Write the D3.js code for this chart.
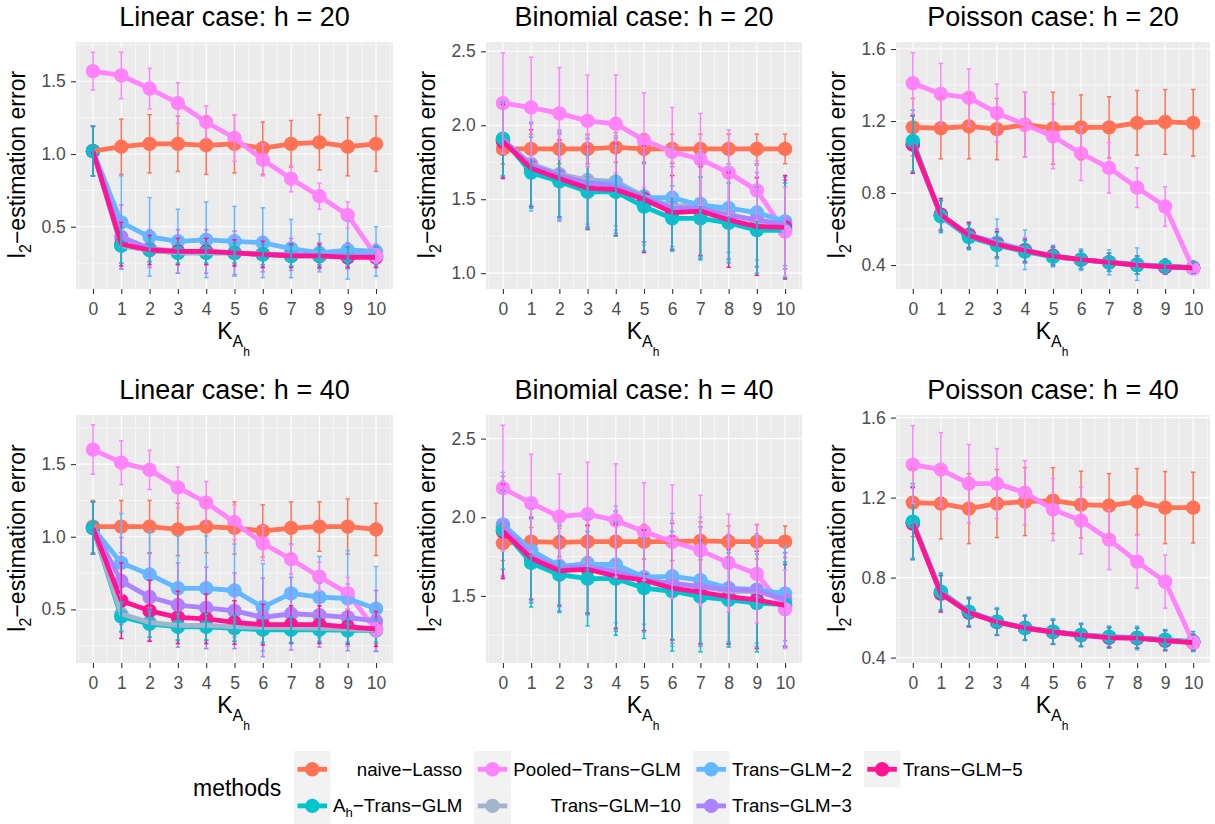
<!DOCTYPE html>
<html>
<head>
<meta charset="utf-8">
<script src="https://cdn.jsdelivr.net/npm/d3@7"></script>
<style>
  body { margin: 0; background: #ffffff; }
  svg { display: block; font-family: "Liberation Sans", Arial, Helvetica, sans-serif; }
</style>
</head>
<body>
<svg id="chart" width="1215" height="824"></svg>
<script>
// ---------------- DATA ----------------
const kValues = [0, 1, 2, 3, 4, 5, 6, 7, 8, 9, 10];
const methodKeys = ["naive", "ah", "pooled", "tg10", "tg2", "tg3", "tg5"];
const methodColors = ["#FF7256", "#00C5CD", "#FF83FA", "#A2B5CD", "#63B8FF", "#AB82FF", "#FF1493"];
const legendTitle = "methods";
const panelTitles = ["Linear case: h = 20", "Binomial case: h = 20", "Poisson case: h = 20",
                     "Linear case: h = 40", "Binomial case: h = 40", "Poisson case: h = 40"];
const yAxisTitleMain = "l";
const yAxisTitleSub = "2";
const yAxisTitleRest = "\u2212estimation error";

const yTicksLinear = [0.5, 1.0, 1.5];
const yTicksBinomial20 = [1.0, 1.5, 2.0, 2.5];
const yTicksBinomial40 = [1.5, 2.0, 2.5];
const yTicksPoisson = [0.4, 0.8, 1.2, 1.6];

const yLimLin20 = [0.072, 1.77];
const yLimBin20 = [0.893, 2.563];
const yLimPoi20 = [0.267, 1.639];
const yLimLin40 = [0.131, 1.838];
const yLimBin40 = [1.074, 2.65];
const yLimPoi40 = [0.373, 1.613];

// Linear h = 20
const lin20_naive  = [1.02,1.05,1.07,1.07,1.06,1.07,1.04,1.07,1.08,1.05,1.07];
const lin20_naive_sd = [0.17,0.19,0.20,0.19,0.20,0.20,0.18,0.16,0.19,0.20,0.19];
const lin20_ah     = [1.02,0.37,0.34,0.32,0.32,0.32,0.31,0.30,0.30,0.30,0.30];
const lin20_ah_sd  = [0.17,0.12,0.08,0.07,0.07,0.07,0.07,0.07,0.06,0.06,0.06];
const lin20_pooled = [1.57,1.54,1.45,1.35,1.22,1.11,0.96,0.83,0.71,0.58,0.30];
const lin20_pooled_sd = [0.13,0.16,0.14,0.14,0.11,0.16,0.11,0.09,0.09,0.09,0.05];
const lin20_tg10   = [1.02,0.37,0.34,0.32,0.32,0.32,0.31,0.30,0.30,0.30,0.29];
const lin20_tg10_sd = [0.17,0.12,0.08,0.08,0.08,0.08,0.08,0.07,0.07,0.07,0.06];
const lin20_tg2    = [1.02,0.53,0.43,0.40,0.41,0.40,0.39,0.35,0.32,0.34,0.33];
const lin20_tg2_sd = [0.17,0.32,0.27,0.22,0.26,0.24,0.24,0.20,0.13,0.20,0.17];
const lin20_tg3    = [1.02,0.43,0.35,0.33,0.33,0.32,0.31,0.31,0.30,0.30,0.30];
const lin20_tg3_sd = [0.17,0.22,0.13,0.15,0.15,0.15,0.12,0.11,0.09,0.09,0.08];
const lin20_tg5    = [1.02,0.38,0.34,0.33,0.33,0.32,0.31,0.30,0.30,0.29,0.29];
const lin20_tg5_sd = [0.17,0.15,0.10,0.09,0.09,0.09,0.09,0.08,0.08,0.07,0.07];

// Binomial h = 20
const bin20_naive  = [1.84,1.84,1.84,1.84,1.85,1.84,1.84,1.84,1.84,1.84,1.84];
const bin20_naive_sd = [0.10,0.10,0.10,0.10,0.10,0.10,0.10,0.10,0.10,0.10,0.10];
const bin20_ah     = [1.91,1.68,1.62,1.55,1.55,1.45,1.37,1.37,1.34,1.29,1.29];
const bin20_ah_sd  = [0.25,0.24,0.24,0.25,0.30,0.30,0.22,0.28,0.27,0.29,0.32];
const bin20_pooled = [2.15,2.12,2.08,2.03,2.01,1.90,1.82,1.77,1.68,1.56,1.28];
const bin20_pooled_sd = [0.34,0.34,0.31,0.31,0.33,0.32,0.30,0.31,0.29,0.20,0.30];
const bin20_tg10   = [1.90,1.74,1.67,1.63,1.62,1.52,1.45,1.47,1.40,1.35,1.33];
const bin20_tg10_sd = [0.25,0.28,0.30,0.30,0.30,0.33,0.30,0.36,0.30,0.30,0.30];
const bin20_tg2    = [1.90,1.72,1.65,1.61,1.61,1.51,1.51,1.46,1.44,1.41,1.35];
const bin20_tg2_sd = [0.25,0.30,0.30,0.30,0.32,0.30,0.33,0.35,0.30,0.32,0.30];
const bin20_tg3    = [1.90,1.73,1.66,1.61,1.59,1.51,1.44,1.44,1.39,1.36,1.33];
const bin20_tg3_sd = [0.25,0.28,0.30,0.30,0.32,0.30,0.28,0.34,0.30,0.32,0.30];
const bin20_tg5    = [1.89,1.71,1.64,1.575,1.565,1.50,1.41,1.42,1.36,1.315,1.31];
const bin20_tg5_sd = [0.25,0.26,0.26,0.28,0.31,0.36,0.25,0.30,0.32,0.33,0.35];

// Poisson h = 20
const poi20_naive  = [1.165,1.16,1.17,1.155,1.18,1.16,1.165,1.165,1.19,1.195,1.19];
const poi20_naive_sd = [0.16,0.17,0.18,0.17,0.18,0.20,0.18,0.17,0.18,0.18,0.185];
const poi20_ah     = [1.09,0.67,0.555,0.51,0.475,0.445,0.43,0.415,0.40,0.395,0.385];
const poi20_ah_sd  = [0.17,0.09,0.07,0.07,0.06,0.05,0.05,0.05,0.05,0.04,0.03];
const poi20_pooled = [1.41,1.35,1.33,1.245,1.18,1.115,1.02,0.94,0.83,0.725,0.38];
const poi20_pooled_sd = [0.17,0.17,0.16,0.16,0.18,0.18,0.15,0.14,0.11,0.11,0.02];
const poi20_tg10   = [1.07,0.675,0.565,0.515,0.48,0.45,0.43,0.415,0.40,0.39,0.385];
const poi20_tg10_sd = [0.16,0.08,0.07,0.08,0.07,0.05,0.05,0.05,0.05,0.04,0.03];
const poi20_tg2    = [1.07,0.68,0.57,0.525,0.485,0.45,0.43,0.415,0.405,0.39,0.385];
const poi20_tg2_sd = [0.16,0.08,0.07,0.13,0.11,0.06,0.06,0.07,0.09,0.04,0.03];
const poi20_tg3    = [1.07,0.675,0.565,0.52,0.48,0.45,0.43,0.415,0.40,0.39,0.385];
const poi20_tg3_sd = [0.16,0.08,0.07,0.08,0.07,0.05,0.05,0.05,0.05,0.04,0.03];
const poi20_tg5    = [1.07,0.68,0.565,0.515,0.48,0.45,0.43,0.415,0.40,0.39,0.385];
const poi20_tg5_sd = [0.16,0.09,0.07,0.07,0.06,0.05,0.05,0.05,0.05,0.04,0.03];

// Linear h = 40
const lin40_naive  = [1.07,1.07,1.07,1.05,1.07,1.06,1.04,1.06,1.07,1.07,1.05];
const lin40_naive_sd = [0.18,0.18,0.18,0.18,0.18,0.18,0.18,0.18,0.17,0.19,0.18];
const lin40_ah     = [1.06,0.45,0.40,0.38,0.38,0.37,0.36,0.36,0.36,0.355,0.355];
const lin40_ah_sd  = [0.18,0.10,0.09,0.09,0.09,0.09,0.09,0.09,0.08,0.08,0.08];
const lin40_pooled = [1.60,1.51,1.46,1.34,1.235,1.10,0.955,0.845,0.725,0.61,0.36];
const lin40_pooled_sd = [0.17,0.15,0.135,0.14,0.145,0.12,0.12,0.10,0.10,0.11,0.05];
const lin40_tg10   = [1.06,0.47,0.41,0.39,0.39,0.38,0.375,0.375,0.37,0.365,0.36];
const lin40_tg10_sd = [0.18,0.13,0.10,0.10,0.10,0.10,0.10,0.10,0.10,0.10,0.10];
const lin40_tg2    = [1.06,0.82,0.74,0.645,0.645,0.63,0.515,0.61,0.585,0.575,0.505];
const lin40_tg2_sd = [0.18,0.34,0.30,0.36,0.36,0.32,0.30,0.34,0.28,0.33,0.29];
const lin40_tg3    = [1.06,0.695,0.585,0.53,0.51,0.49,0.445,0.47,0.46,0.445,0.42];
const lin40_tg3_sd = [0.18,0.30,0.30,0.29,0.28,0.26,0.27,0.25,0.22,0.23,0.21];
const lin40_tg5    = [1.06,0.56,0.49,0.445,0.435,0.41,0.395,0.395,0.395,0.38,0.365];
const lin40_tg5_sd = [0.18,0.26,0.21,0.18,0.17,0.15,0.14,0.13,0.13,0.12,0.12];

// Binomial h = 40
const bin40_naive  = [1.835,1.845,1.84,1.845,1.845,1.845,1.845,1.85,1.845,1.845,1.845];
const bin40_naive_sd = [0.11,0.09,0.09,0.10,0.12,0.11,0.12,0.12,0.10,0.11,0.10];
const bin40_ah     = [1.92,1.71,1.635,1.61,1.61,1.55,1.53,1.495,1.475,1.455,1.445];
const bin40_ah_sd  = [0.25,0.28,0.24,0.30,0.36,0.32,0.38,0.35,0.30,0.31,0.27];
const bin40_pooled = [2.185,2.09,2.005,2.02,1.98,1.91,1.845,1.79,1.71,1.64,1.415];
const bin40_pooled_sd = [0.40,0.31,0.27,0.33,0.36,0.31,0.36,0.35,0.31,0.31,0.25];
const bin40_tg10   = [1.93,1.76,1.68,1.71,1.665,1.60,1.58,1.56,1.53,1.53,1.475];
const bin40_tg10_sd = [0.30,0.30,0.28,0.32,0.38,0.33,0.40,0.38,0.33,0.35,0.30];
const bin40_tg2    = [1.955,1.79,1.69,1.70,1.70,1.62,1.625,1.60,1.55,1.54,1.515];
const bin40_tg2_sd = [0.33,0.32,0.26,0.32,0.37,0.30,0.40,0.40,0.34,0.34,0.30];
const bin40_tg3    = [1.94,1.755,1.675,1.685,1.655,1.60,1.58,1.56,1.54,1.535,1.475];
const bin40_tg3_sd = [0.32,0.30,0.27,0.30,0.38,0.32,0.38,0.38,0.35,0.36,0.30];
const bin40_tg5    = [1.91,1.74,1.66,1.67,1.625,1.60,1.55,1.525,1.495,1.475,1.44];
const bin40_tg5_sd = [0.30,0.26,0.22,0.28,0.33,0.32,0.33,0.33,0.30,0.31,0.26];

// Poisson h = 40
const poi40_naive  = [1.175,1.17,1.145,1.17,1.18,1.185,1.165,1.16,1.18,1.15,1.15];
const poi40_naive_sd = [0.17,0.177,0.175,0.17,0.17,0.165,0.167,0.16,0.165,0.18,0.177];
const poi40_ah     = [1.08,0.73,0.63,0.58,0.547,0.53,0.513,0.505,0.50,0.49,0.48];
const poi40_ah_sd  = [0.19,0.09,0.07,0.065,0.06,0.06,0.055,0.05,0.05,0.05,0.05];
const poi40_pooled = [1.365,1.34,1.27,1.27,1.225,1.14,1.085,0.99,0.88,0.78,0.475];
const poi40_pooled_sd = [0.195,0.185,0.196,0.175,0.16,0.155,0.167,0.15,0.133,0.133,0.03];
const poi40_tg10   = [1.075,0.72,0.625,0.578,0.548,0.528,0.512,0.50,0.497,0.485,0.475];
const poi40_tg10_sd = [0.18,0.09,0.07,0.065,0.06,0.06,0.055,0.05,0.05,0.05,0.04];
const poi40_tg2    = [1.075,0.725,0.628,0.58,0.55,0.53,0.513,0.502,0.498,0.487,0.477];
const poi40_tg2_sd = [0.18,0.10,0.075,0.07,0.065,0.065,0.06,0.055,0.06,0.05,0.04];
const poi40_tg3    = [1.075,0.722,0.626,0.579,0.548,0.529,0.512,0.50,0.497,0.486,0.476];
const poi40_tg3_sd = [0.18,0.09,0.07,0.065,0.06,0.06,0.055,0.05,0.05,0.05,0.04];
const poi40_tg5    = [1.07,0.72,0.625,0.578,0.548,0.528,0.512,0.50,0.497,0.485,0.475];
const poi40_tg5_sd = [0.18,0.09,0.07,0.065,0.06,0.06,0.055,0.05,0.05,0.05,0.04];

// ---------------- BUILD ----------------
const panels = [
  { title: panelTitles[0], ylim: yLimLin20, ticks: yTicksLinear,
    means: [lin20_naive, lin20_ah, lin20_pooled, lin20_tg10, lin20_tg2, lin20_tg3, lin20_tg5],
    sds:   [lin20_naive_sd, lin20_ah_sd, lin20_pooled_sd, lin20_tg10_sd, lin20_tg2_sd, lin20_tg3_sd, lin20_tg5_sd] },
  { title: panelTitles[1], ylim: yLimBin20, ticks: yTicksBinomial20,
    means: [bin20_naive, bin20_ah, bin20_pooled, bin20_tg10, bin20_tg2, bin20_tg3, bin20_tg5],
    sds:   [bin20_naive_sd, bin20_ah_sd, bin20_pooled_sd, bin20_tg10_sd, bin20_tg2_sd, bin20_tg3_sd, bin20_tg5_sd] },
  { title: panelTitles[2], ylim: yLimPoi20, ticks: yTicksPoisson,
    means: [poi20_naive, poi20_ah, poi20_pooled, poi20_tg10, poi20_tg2, poi20_tg3, poi20_tg5],
    sds:   [poi20_naive_sd, poi20_ah_sd, poi20_pooled_sd, poi20_tg10_sd, poi20_tg2_sd, poi20_tg3_sd, poi20_tg5_sd] },
  { title: panelTitles[3], ylim: yLimLin40, ticks: yTicksLinear,
    means: [lin40_naive, lin40_ah, lin40_pooled, lin40_tg10, lin40_tg2, lin40_tg3, lin40_tg5],
    sds:   [lin40_naive_sd, lin40_ah_sd, lin40_pooled_sd, lin40_tg10_sd, lin40_tg2_sd, lin40_tg3_sd, lin40_tg5_sd] },
  { title: panelTitles[4], ylim: yLimBin40, ticks: yTicksBinomial40,
    means: [bin40_naive, bin40_ah, bin40_pooled, bin40_tg10, bin40_tg2, bin40_tg3, bin40_tg5],
    sds:   [bin40_naive_sd, bin40_ah_sd, bin40_pooled_sd, bin40_tg10_sd, bin40_tg2_sd, bin40_tg3_sd, bin40_tg5_sd] },
  { title: panelTitles[5], ylim: yLimPoi40, ticks: yTicksPoisson,
    means: [poi40_naive, poi40_ah, poi40_pooled, poi40_tg10, poi40_tg2, poi40_tg3, poi40_tg5],
    sds:   [poi40_naive_sd, poi40_ah_sd, poi40_pooled_sd, poi40_tg10_sd, poi40_tg2_sd, poi40_tg3_sd, poi40_tg5_sd] }
];

const svg = d3.select("#chart");
svg.append("rect").attr("width", 1215).attr("height", 824).attr("fill", "#ffffff");

const colLeft = [76, 486, 896];
const colWidth = [317, 316, 314];
const rowTop = [42, 415];
const rowHeight = [247, 248];
const pointOrder = [0, 3, 4, 5, 6, 1, 2];
const lineOrder = [0, 1, 2, 3, 4, 5, 6];

panels.forEach((p, i) => {
  const col = i % 3, row = Math.floor(i / 3);
  const L = colLeft[col], W = colWidth[col], T = rowTop[row], H = rowHeight[row];
  const x = d3.scaleLinear().domain([-0.6, 10.6]).range([L, L + W]);
  const y = d3.scaleLinear().domain(p.ylim).range([T + H, T]);
  const g = svg.append("g");

  g.append("rect").attr("x", L).attr("y", T).attr("width", W).attr("height", H).attr("fill", "#ebebeb");

  // minor grid
  const xMinor = kValues.map(k => k - 0.5).concat([10.5]);
  const step = p.ticks[1] - p.ticks[0];
  const yMinor = [];
  for (let j = -1; j < p.ticks.length; j++) {
    const v = p.ticks[0] + step * (j + 0.5);
    if (v > p.ylim[0] && v < p.ylim[1]) yMinor.push(v);
  }
  g.selectAll(null).data(xMinor).enter().append("line")
    .attr("x1", d => x(d)).attr("x2", d => x(d)).attr("y1", T).attr("y2", T + H)
    .attr("stroke", "#ffffff").attr("stroke-width", 0.55);
  g.selectAll(null).data(yMinor).enter().append("line")
    .attr("x1", L).attr("x2", L + W).attr("y1", d => y(d)).attr("y2", d => y(d))
    .attr("stroke", "#ffffff").attr("stroke-width", 0.55);
  // major grid
  g.selectAll(null).data(kValues).enter().append("line")
    .attr("x1", d => x(d)).attr("x2", d => x(d)).attr("y1", T).attr("y2", T + H)
    .attr("stroke", "#ffffff").attr("stroke-width", 1.1);
  g.selectAll(null).data(p.ticks).enter().append("line")
    .attr("x1", L).attr("x2", L + W).attr("y1", d => y(d)).attr("y2", d => y(d))
    .attr("stroke", "#ffffff").attr("stroke-width", 1.1);

  const clipId = "clip" + i;
  svg.append("clipPath").attr("id", clipId).append("rect")
    .attr("x", L).attr("y", T).attr("width", W).attr("height", H);
  const data = g.append("g").attr("clip-path", `url(#${clipId})`);

  // points
  pointOrder.forEach(s => {
    data.selectAll(null).data(kValues).enter().append("circle")
      .attr("cx", k => x(k)).attr("cy", (k, j) => y(p.means[s][j]))
      .attr("r", 7.2).attr("fill", methodColors[s]);
  });
  // lines
  const lineGen = d3.line().x((d, j) => x(kValues[j])).y(d => y(d));
  lineOrder.forEach(s => {
    data.append("path").datum(p.means[s]).attr("d", lineGen)
      .attr("fill", "none").attr("stroke", methodColors[s])
      .attr("stroke-width", 4.8).attr("stroke-linejoin", "round").attr("stroke-linecap", "butt");
  });
  // error bars
  pointOrder.forEach(s => {
    const eb = data.append("g").attr("stroke", methodColors[s]).attr("stroke-width", 1.5);
    kValues.forEach((k, j) => {
      const m = p.means[s][j], sd = p.sds[s][j];
      const cx = x(k), y1 = y(m - sd), y2 = y(m + sd);
      eb.append("line").attr("x1", cx).attr("x2", cx).attr("y1", y1).attr("y2", y2);
      eb.append("line").attr("x1", cx - 2.2).attr("x2", cx + 2.2).attr("y1", y1).attr("y2", y1);
      eb.append("line").attr("x1", cx - 2.2).attr("x2", cx + 2.2).attr("y1", y2).attr("y2", y2);
    });
  });

  // axes
  const yAxis = d3.axisLeft(y).tickValues(p.ticks).tickFormat(d3.format(".1f"))
    .tickSize(5).tickSizeOuter(0).tickPadding(5.3);
  const ya = g.append("g").attr("transform", `translate(${L},0)`).call(yAxis);
  ya.select(".domain").remove();
  ya.selectAll(".tick line").attr("stroke", "#333333").attr("stroke-width", 1.1);
  ya.selectAll(".tick text").attr("fill", "#4d4d4d").style("font-size", "17.5px")
    .style("font-family", '"Liberation Sans", Arial, sans-serif');

  const xAxis = d3.axisBottom(x).tickValues(kValues).tickFormat(d3.format("d"))
    .tickSize(5).tickSizeOuter(0).tickPadding(8.6);
  const xa = g.append("g").attr("transform", `translate(0,${T + H})`).call(xAxis);
  xa.select(".domain").remove();
  xa.selectAll(".tick line").attr("stroke", "#333333").attr("stroke-width", 1.1);
  xa.selectAll(".tick text").attr("fill", "#4d4d4d").style("font-size", "17.5px")
    .style("font-family", '"Liberation Sans", Arial, sans-serif');

  // title
  g.append("text").attr("x", L + W / 2).attr("y", T - 16.5)
    .attr("text-anchor", "middle").style("font-size", "27px").attr("fill", "#000")
    .text(p.title);

  // x axis title K_{A_h}
  const xt = g.append("text").attr("x", L + W / 2 - 1).attr("y", T + H + 50)
    .attr("text-anchor", "middle").attr("fill", "#000").style("font-size", "23px");
  xt.append("tspan").text("K");
  xt.append("tspan").attr("dy", 8).style("font-size", "16px").text("A");
  xt.append("tspan").attr("dy", 9).style("font-size", "12px").text("h");

  // y axis title
  const ytx = L - 51, yty = T + H / 2 - 1;
  const yt = g.append("text").attr("transform", `translate(${ytx},${yty}) rotate(-90)`)
    .attr("text-anchor", "middle").attr("fill", "#000").style("font-size", "23px");
  yt.append("tspan").text(yAxisTitleMain);
  yt.append("tspan").attr("dy", 6).style("font-size", "16px").text(yAxisTitleSub);
  yt.append("tspan").attr("dy", -6).text(yAxisTitleRest);
});

// ---------------- LEGEND ----------------
const legend = svg.append("g");
legend.append("text").attr("x", 193).attr("y", 795.5).style("font-size", "23px").attr("fill", "#000")
  .text(legendTitle);

const keySize = 36.6;
const keyTop = 751;
let keyX = 294;
const nCols = Math.ceil(methodKeys.length / 2);
for (let c = 0; c < nCols; c++) {
  const items = [2 * c, 2 * c + 1].filter(d => d < methodKeys.length);
  const texts = [];
  items.forEach((s, r) => {
    const ky = keyTop + r * keySize;
    legend.append("rect").attr("x", keyX).attr("y", ky).attr("width", keySize).attr("height", keySize)
      .attr("fill", "#f2f2f2");
    legend.append("line").attr("x1", keyX + 3.5).attr("x2", keyX + keySize - 3.5)
      .attr("y1", ky + keySize / 2).attr("y2", ky + keySize / 2)
      .attr("stroke", methodColors[s]).attr("stroke-width", 4.8);
    legend.append("circle").attr("cx", keyX + keySize / 2).attr("cy", ky + keySize / 2).attr("r", 7.2)
      .attr("fill", methodColors[s]);
    const t = legend.append("text").attr("y", ky + keySize / 2 + 6.5).attr("text-anchor", "end")
      .style("font-size", "18.7px").attr("fill", "#000");
    const key = methodKeys[s];
    if (key === "naive") t.text("naive\u2212Lasso");
    else if (key === "ah") {
      t.append("tspan").text("A");
      t.append("tspan").attr("dy", 5).style("font-size", "13px").text("h");
      t.append("tspan").attr("dy", -5).text("\u2212Trans\u2212GLM");
    }
    else if (key === "pooled") t.text("Pooled\u2212Trans\u2212GLM");
    else if (key === "tg10") t.text("Trans\u2212GLM\u221210");
    else if (key === "tg2") t.text("Trans\u2212GLM\u22122");
    else if (key === "tg3") t.text("Trans\u2212GLM\u22123");
    else if (key === "tg5") t.text("Trans\u2212GLM\u22125");
    texts.push(t);
  });
  const maxW = d3.max(texts, t => t.node().getComputedTextLength());
  const right = keyX + keySize + 2.5 + maxW;
  texts.forEach(t => t.attr("x", right));
  keyX = right + 12;
}
</script>
</body>
</html>
